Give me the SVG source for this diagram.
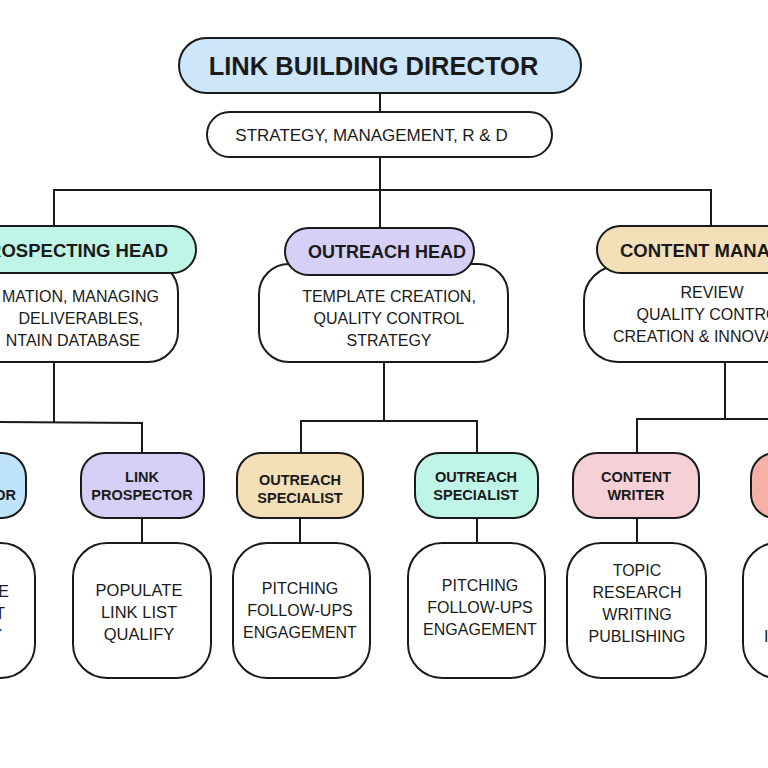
<svg xmlns="http://www.w3.org/2000/svg" width="768" height="768" viewBox="0 0 768 768">
<style>
  .ln{stroke:#1a1a1a;stroke-width:2;fill:none}
  .bx{stroke:#1a1a1a;stroke-width:2}
  .w{fill:#ffffff}
  .t{font-family:"Liberation Sans",Arial,sans-serif;fill:#1a1a1a}
  .b{font-weight:bold}
  .c{text-anchor:middle}
  .e{text-anchor:end}
  .s{text-anchor:start}
</style>
<rect width="768" height="768" fill="#ffffff"/>
<g id="connectors">
  <line class="ln" x1="380" y1="93" x2="380" y2="112"/>
  <line class="ln" x1="380" y1="157" x2="380" y2="229"/>
  <polyline class="ln" points="54,226 54,190 711,190 711,226"/>
  <polyline class="ln" points="54,362 54,422"/>
  <polyline class="ln" points="-5,422 142,423 142,453"/>
  <line class="ln" x1="384" y1="362" x2="384" y2="421"/>
  <polyline class="ln" points="301,453 301,421 477,421 477,453"/>
  <line class="ln" x1="725" y1="362" x2="725" y2="419"/>
  <polyline class="ln" points="637,453 637,419 775,419"/>
  <line class="ln" x1="142" y1="518" x2="142" y2="543"/>
  <line class="ln" x1="300" y1="518" x2="300" y2="543"/>
  <line class="ln" x1="477" y1="518" x2="477" y2="543"/>
  <line class="ln" x1="637" y1="518" x2="637" y2="543"/>
</g>
<g id="director">
  <rect class="bx" x="179" y="38" width="402" height="55" rx="27.5" fill="#cde6fa"/>
  <text class="t b c" x="373.5" y="75" font-size="25.5">LINK BUILDING DIRECTOR</text>
</g>
<g id="director-duties">
  <rect class="bx w" x="207" y="112" width="345" height="45" rx="22.5"/>
  <text class="t c" x="371.5" y="141" font-size="17">STRATEGY, MANAGEMENT, R &amp; D</text>
</g>
<g id="prospecting-head">
  <rect class="bx w" x="-120" y="262" width="298" height="100" rx="30"/>
  <rect class="bx" x="-110" y="226" width="306" height="47" rx="23.5" fill="#bff5e6"/>
  <text class="t b e" x="168" y="257" font-size="18.5">PROSPECTING HEAD</text>
  <text class="t e" x="159" y="302" font-size="16">MATION, MANAGING</text>
  <text class="t e" x="143" y="324" font-size="16">DELIVERABLES,</text>
  <text class="t e" x="140" y="346" font-size="16">NTAIN DATABASE</text>
</g>
<g id="outreach-head">
  <rect class="bx w" x="259" y="264" width="249" height="98" rx="30"/>
  <rect class="bx" x="285" y="228" width="189" height="47" rx="23.5" fill="#d6d0f7"/>
  <text class="t b c" x="387" y="258" font-size="18">OUTREACH HEAD</text>
  <text class="t c" x="389" y="302" font-size="16">TEMPLATE CREATION,</text>
  <text class="t c" x="389" y="324" font-size="16">QUALITY CONTROL</text>
  <text class="t c" x="389" y="346" font-size="16">STRATEGY</text>
</g>
<g id="content-manager">
  <rect class="bx w" x="584" y="266" width="300" height="96" rx="34"/>
  <rect class="bx" x="597" y="226" width="300" height="47" rx="23.5" fill="#f3e0b8"/>
  <text class="t b s" x="620" y="257" font-size="18.5">CONTENT MANAGER</text>
  <text class="t c" x="712" y="298" font-size="16">REVIEW</text>
  <text class="t c" x="712" y="320" font-size="16">QUALITY CONTROL</text>
  <text class="t c" x="712" y="342" font-size="16">CREATION &amp; INNOVATION</text>
</g>
<g id="left-role">
  <rect class="bx" x="-100" y="453" width="126" height="65" rx="24" fill="#bfe3fb"/>
  <text class="t b e" x="16" y="500" font-size="14.5">OR</text>
  <rect class="bx w" x="-104" y="543" width="139" height="135" rx="34"/>
  <text class="t e" x="9" y="597" font-size="16">E</text>
  <text class="t e" x="5" y="619" font-size="16">T</text>
  <text class="t e" x="2" y="641" font-size="16">Y</text>
</g>
<g id="link-prospector">
  <rect class="bx" x="81" y="453" width="123" height="65" rx="24" fill="#d6d0f7"/>
  <text class="t b c" x="142" y="482" font-size="14.5">LINK</text>
  <text class="t b c" x="142" y="500" font-size="14.5">PROSPECTOR</text>
  <rect class="bx w" x="73" y="543" width="138" height="135" rx="34"/>
  <text class="t c" x="139" y="596" font-size="16.5">POPULATE</text>
  <text class="t c" x="139" y="618" font-size="16.5">LINK LIST</text>
  <text class="t c" x="139" y="640" font-size="16.5">QUALIFY</text>
</g>
<g id="outreach-specialist-1">
  <rect class="bx" x="237" y="453" width="126" height="65" rx="24" fill="#f3e0b8"/>
  <text class="t b c" x="300" y="485" font-size="14.5">OUTREACH</text>
  <text class="t b c" x="300" y="503" font-size="14.5">SPECIALIST</text>
  <rect class="bx w" x="233" y="543" width="137" height="135" rx="34"/>
  <text class="t c" x="300" y="594" font-size="16">PITCHING</text>
  <text class="t c" x="300" y="616" font-size="16">FOLLOW-UPS</text>
  <text class="t c" x="300" y="638" font-size="16">ENGAGEMENT</text>
</g>
<g id="outreach-specialist-2">
  <rect class="bx" x="415" y="453" width="123" height="65" rx="24" fill="#bff5e6"/>
  <text class="t b c" x="476" y="482" font-size="14.5">OUTREACH</text>
  <text class="t b c" x="476" y="500" font-size="14.5">SPECIALIST</text>
  <rect class="bx w" x="408" y="543" width="137" height="135" rx="34"/>
  <text class="t c" x="480" y="591" font-size="16">PITCHING</text>
  <text class="t c" x="480" y="613" font-size="16">FOLLOW-UPS</text>
  <text class="t c" x="480" y="635" font-size="16">ENGAGEMENT</text>
</g>
<g id="content-writer">
  <rect class="bx" x="573" y="453" width="126" height="65" rx="24" fill="#f5d0d6"/>
  <text class="t b c" x="636" y="482" font-size="14.5">CONTENT</text>
  <text class="t b c" x="636" y="500" font-size="14.5">WRITER</text>
  <rect class="bx w" x="567" y="543" width="139" height="135" rx="34"/>
  <text class="t c" x="637" y="576" font-size="16">TOPIC</text>
  <text class="t c" x="637" y="598" font-size="16">RESEARCH</text>
  <text class="t c" x="637" y="620" font-size="16">WRITING</text>
  <text class="t c" x="637" y="642" font-size="16">PUBLISHING</text>
</g>
<g id="right-role">
  <rect class="bx" x="751" y="453" width="126" height="65" rx="24" fill="#f7b0a5"/>
  <rect class="bx w" x="743" y="543" width="139" height="135" rx="34"/>
  <text class="t s" x="764" y="642" font-size="16">I</text>
</g>
</svg>
